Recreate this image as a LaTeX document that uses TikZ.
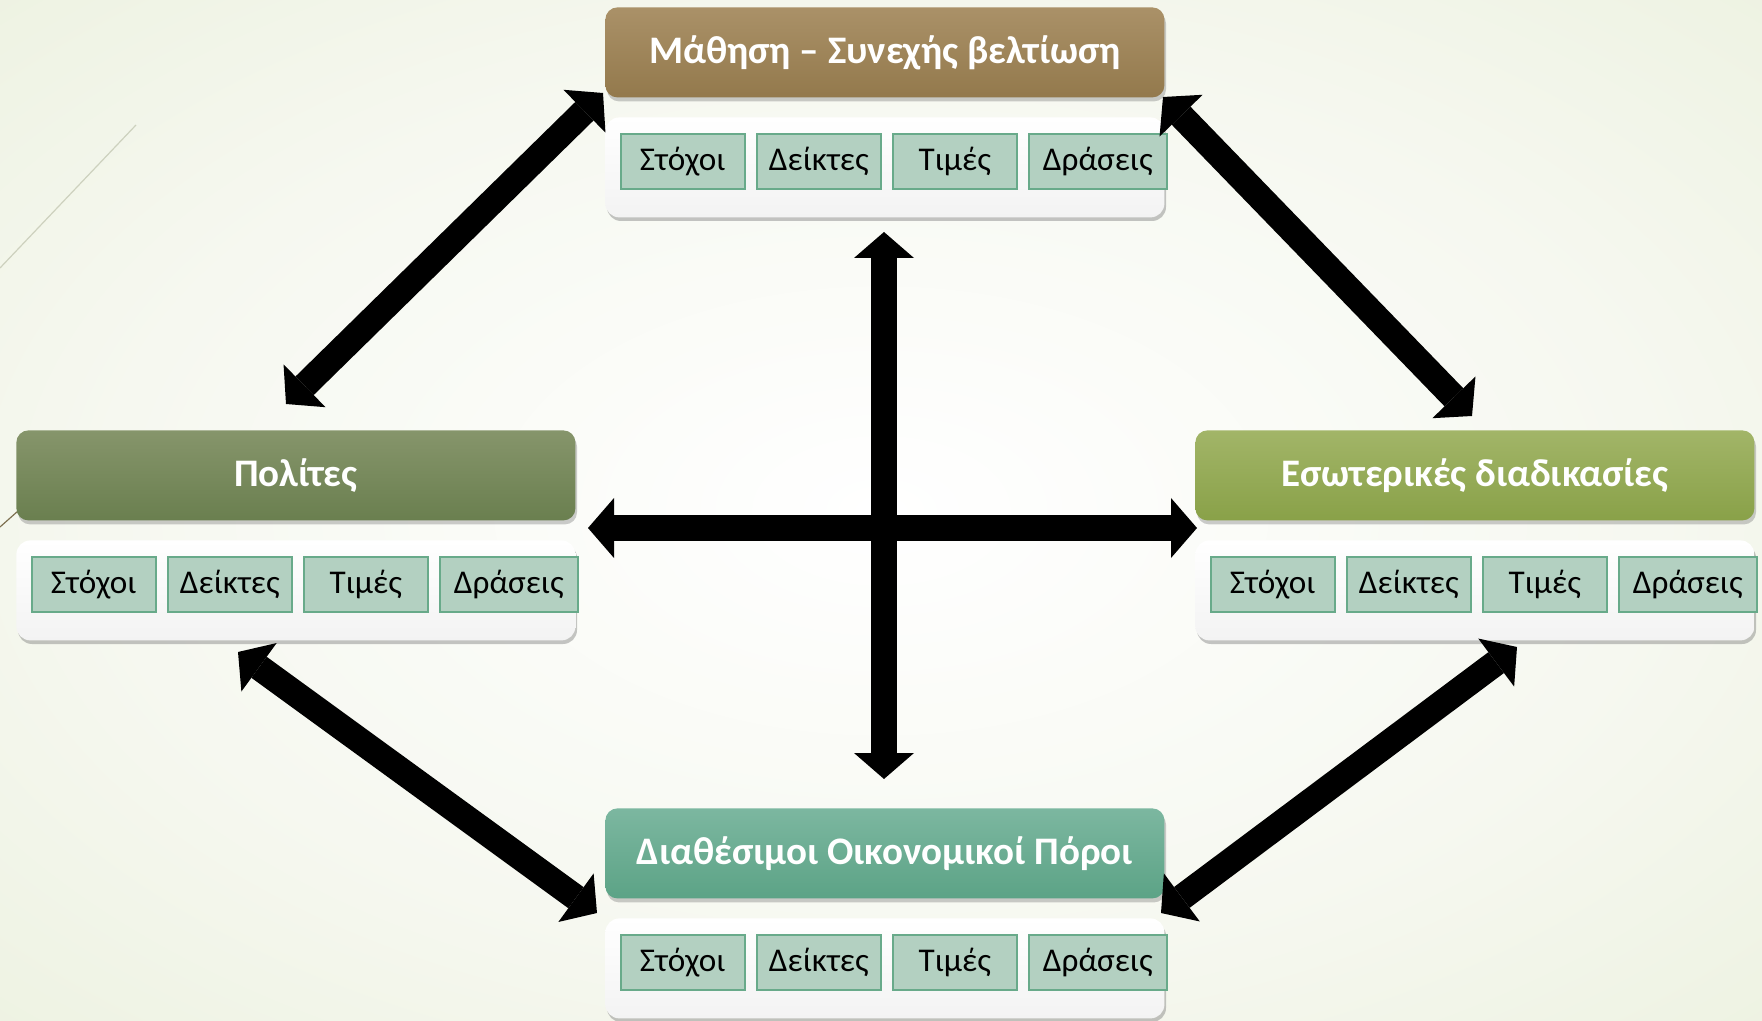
\documentclass[tikz,border=0pt]{standalone}
\usepackage{fontspec}
\setmainfont{Carlito}
\usetikzlibrary{arrows.meta,shadows}
\definecolor{bggreen}{RGB}{222,231,200}
\definecolor{bgmid}{RGB}{246,248,240}
\definecolor{brownTop}{RGB}{170,145,104}
\definecolor{brownBot}{RGB}{147,121,76}
\definecolor{oliveTop}{RGB}{134,149,107}
\definecolor{oliveBot}{RGB}{106,127,79}
\definecolor{limeTop}{RGB}{162,181,104}
\definecolor{limeBot}{RGB}{137,161,72}
\definecolor{tealTop}{RGB}{124,183,160}
\definecolor{tealBot}{RGB}{92,163,134}
\definecolor{cellfill}{RGB}{179,208,193}
\definecolor{cellborder}{RGB}{104,170,138}
\definecolor{panelgray}{RGB}{243,243,243}
\definecolor{decoline}{RGB}{205,209,190}
\definecolor{decodark}{RGB}{125,112,80}
\pgfdeclareradialshading{bgshade}{\pgfpoint{0bp}{0bp}}{color(0bp)=(white); color(22bp)=(bgmid); color(50bp)=(bggreen!70!bgmid); color(72bp)=(bggreen)}
\tikzset{
  hdr/.style={rounded corners=6pt, minimum width=279.5pt, minimum height=45pt, inner sep=0pt,
    text=white, font=\fontsize{19.5}{22}\selectfont\bfseries,
    drop shadow={shadow xshift=0.8pt, shadow yshift=-2pt, opacity=0.4}},
  panelbox/.style={rounded corners=7pt, minimum width=279.5pt, minimum height=50pt, inner sep=0pt,
    top color=white, bottom color=panelgray,
    drop shadow={shadow xshift=0.8pt, shadow yshift=-1.8pt, opacity=0.45}},
  cell/.style={fill=cellfill, draw=cellborder, line width=0.8pt, minimum width=62pt,
    minimum height=27.5pt, inner sep=0pt, font=\fontsize{16.6}{19}\selectfont},
  lastcell/.style={cell, minimum width=69pt},
  bigarrow/.style={line width=13pt,
    {Triangle[length=13pt,width=30pt,line width=0pt]}-{Triangle[length=13pt,width=30pt,line width=0pt]}}
}
\newcommand\bscbox[6]{%
  \begin{scope}[shift={(#2,#3)}]
    \node[panelbox, anchor=north west] (#1-panel) at (0,110) {};
    \node[cell, anchor=north west] (#1-c1) at (15,126) {\raisebox{-1.2pt}{Στόχοι}};
    \node[cell, anchor=north west] (#1-c2) at (151,126) {\raisebox{-1.2pt}{Δείκτες}};
    \node[cell, anchor=north west] (#1-c3) at (287,126) {\raisebox{-1.2pt}{Τιμές}};
    \node[lastcell, anchor=north west] (#1-c4) at (423,126) {\raisebox{-1.2pt}{Δράσεις}};
    \node[hdr, top color=#4, bottom color=#5, anchor=north west] (#1) at (0,0) {\raisebox{-1.5pt}{#6}};
  \end{scope}}
\begin{document}
\begin{tikzpicture}[x=0.5pt,y=-0.5pt]
\useasboundingbox (0,0) rectangle (1762,1021);
\shade[shading=bgshade] (0,0) rectangle (1762,1021);
\draw[decoline, line width=0.6pt] (0,268) -- (136,125);
\draw[decodark, line width=0.6pt] (0,527) -- (18,511);

\bscbox{learn}{605}{7}{brownTop}{brownBot}{Μάθηση – Συνεχής βελτίωση}
\bscbox{cit}{16}{430}{oliveTop}{oliveBot}{Πολίτες}
\bscbox{proc}{1195}{430}{limeTop}{limeBot}{Εσωτερικές διαδικασίες}
\bscbox{fin}{605}{808}{tealTop}{tealBot}{Διαθέσιμοι Οικονομικοί Πόροι}

\coordinate (vt) at (884,232);
\coordinate (vb) at (884,779);
\coordinate (hl) at (588,528);
\coordinate (hr) at (1197,528);
\coordinate (tl1) at (603,93);
\coordinate (tl2) at (286,404);
\coordinate (tr1) at (1163,97);
\coordinate (tr2) at (1472,416);
\coordinate (bl1) at (238,652);
\coordinate (bl2) at (597,913);
\coordinate (br1) at (1517,647);
\coordinate (br2) at (1161,913);

\draw[bigarrow] (vt) -- (vb);
\draw[bigarrow] (hl) -- (hr);
\draw[bigarrow] (tl1) -- (tl2);
\draw[bigarrow] (tr1) -- (tr2);
\draw[bigarrow] (bl1) -- (bl2);
\draw[bigarrow] (br1) -- (br2);
\end{tikzpicture}
\end{document}
